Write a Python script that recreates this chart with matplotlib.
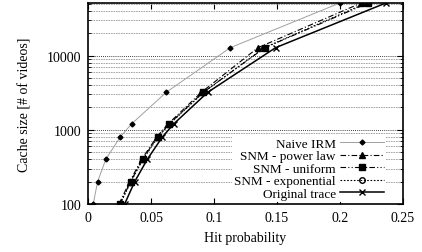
import matplotlib
matplotlib.use("Agg")
import matplotlib.pyplot as plt
from matplotlib.ticker import FixedLocator, FuncFormatter, NullFormatter

# cache sizes (# of videos)
sizes = [100, 200, 400, 800, 1200, 3200, 12800, 51200]

# hit probability per model
naive_irm = [0.004, 0.0075, 0.014, 0.0255, 0.0345, 0.062, 0.113, 0.200]
snm_power = [0.0245, 0.033, 0.0425, 0.0545, 0.0635, 0.0900, 0.135, 0.217]
snm_uniform = [0.0252, 0.0337, 0.0432, 0.0552, 0.0644, 0.0914, 0.1405, 0.2226]
snm_expo = [0.0255, 0.034, 0.0436, 0.0556, 0.0648, 0.0918, 0.1400, 0.2210]
original = [0.029, 0.037, 0.047, 0.059, 0.068, 0.095, 0.149, 0.2366]

xticks = [0, 0.05, 0.1, 0.15, 0.2, 0.25]
yticks = [100, 1000, 10000]
yminor = [m * d for d in (100, 1000, 10000) for m in range(2, 10) if m * d < 51200]

plt.rcParams["font.family"] = ["Liberation Serif", "DejaVu Serif"]
plt.rcParams["font.size"] = 10

fig = plt.figure(figsize=(4.22, 2.53), dpi=100)
ax = fig.add_axes([0.209, 0.190, 0.745, 0.794])

ax.plot(naive_irm, sizes, color="#a0a0a0", lw=0.7, marker="D", ms=2.5,
        mfc="black", mec="black", label="Naive IRM")
ax.plot(snm_power, sizes, color="black", lw=0.8, ls=(0, (5, 2, 1, 2)),
        marker="^", ms=5, label="SNM - power law")
ax.plot(snm_uniform, sizes, color="black", lw=0.8, ls=(0, (5, 2, 1, 2, 1, 2)),
        marker="s", ms=5, label="SNM - uniform")
ax.plot(snm_expo, sizes, color="black", lw=0.8, ls=(0, (1.5, 1.5)),
        marker="o", ms=4, mfc="none", label="SNM - exponential")
ax.plot(original, sizes, color="black", lw=1.1, marker="x", ms=5,
        label="Original trace")

ax.set_yscale("log")
ax.set_xlim(0, 0.25)
ax.set_ylim(100, 51200)
ax.xaxis.set_major_locator(FixedLocator(xticks))
ax.xaxis.set_major_formatter(FuncFormatter(lambda v, p: "%g" % v))
ax.yaxis.set_major_locator(FixedLocator(yticks))
ax.yaxis.set_minor_locator(FixedLocator(yminor))
ax.yaxis.set_major_formatter(FuncFormatter(lambda v, p: "%d" % v))
ax.yaxis.set_minor_formatter(NullFormatter())

ax.grid(True, which="major", axis="y", color="black", lw=0.6, ls=(0, (1, 1.5)))
ax.grid(True, which="minor", axis="y", color="#999999", lw=0.6, ls=(0, (2, 1)))
ax.set_axisbelow(True)

ax.tick_params(which="both", direction="in", top=True, right=True)
ax.tick_params(which="major", length=4, width=0.8, pad=5)
ax.tick_params(which="minor", length=2, width=0.6)
for s in ax.spines.values():
    s.set_linewidth(1.2)

ax.set_xlabel("Hit probability", labelpad=5)
ax.set_ylabel("Cache size [# of videos]", labelpad=11)

leg = ax.legend(loc="lower right", bbox_to_anchor=(0.955, 0.0),
                markerfirst=False, frameon=True, fontsize=9.5,
                fancybox=False, edgecolor="none", framealpha=1,
                handlelength=3.4, labelspacing=0.02, handletextpad=0.3,
                borderpad=0.15, borderaxespad=0.15)

fig.savefig("out.png", dpi=100)
